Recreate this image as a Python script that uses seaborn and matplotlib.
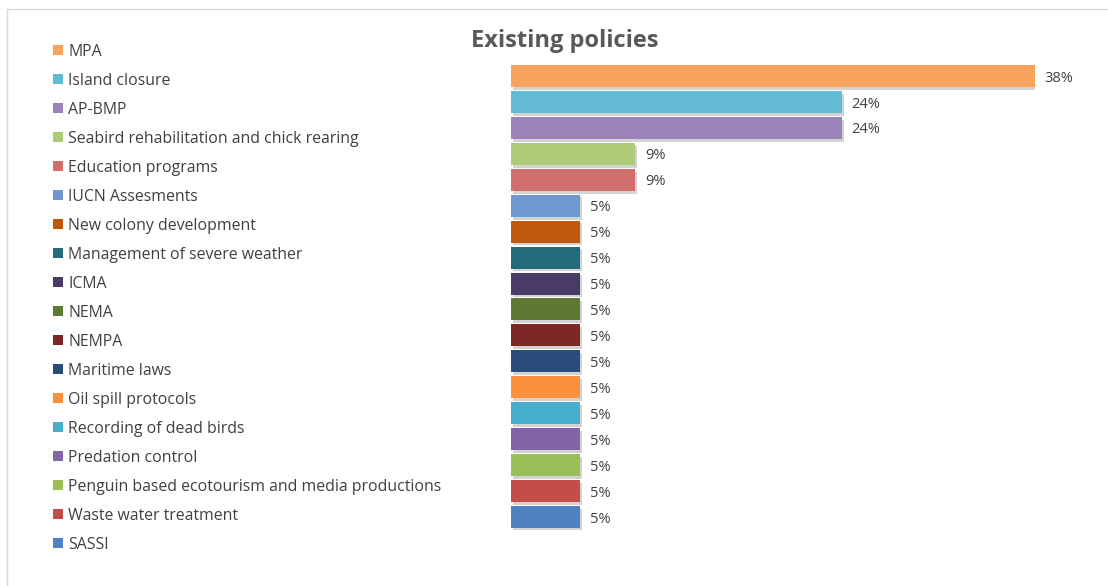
import matplotlib
matplotlib.use("Agg")
import matplotlib.pyplot as plt
import matplotlib.patheffects as pe
from matplotlib.patches import Patch
from matplotlib.lines import Line2D
import seaborn as sns
import pandas as pd

categories = [
    "MPA", "Island closure", "AP-BMP", "Seabird rehabilitation and chick rearing",
    "Education programs", "IUCN Assesments", "New colony development",
    "Management of severe weather", "ICMA", "NEMA", "NEMPA", "Maritime laws",
    "Oil spill protocols", "Recording of dead birds", "Predation control",
    "Penguin based ecotourism and media productions", "Waste water treatment", "SASSI",
]
values = [38, 24, 24, 9, 9, 5, 5, 5, 5, 5, 5, 5, 5, 5, 5, 5, 5, 5]
value_labels = ["38%", "24%", "24%", "9%", "9%", "5%", "5%", "5%", "5%", "5%",
                "5%", "5%", "5%", "5%", "5%", "5%", "5%", "5%"]
colors = [
    "#F9A45E", "#62BBD2", "#9A83B9", "#AECB78", "#D06F6C", "#6F98CF",
    "#C0580E", "#236A7C", "#4A3A66", "#5E7A32", "#7C2826", "#2A4C7A",
    "#F9913F", "#47AFCB", "#8064A6", "#9BBE57", "#C44D4A", "#4F82C3",
]

sns.set_theme(style="white")
plt.rcParams["font.family"] = ["Open Sans", "DejaVu Sans"]

df = pd.DataFrame({"category": categories, "value": values})
palette = dict(zip(categories, colors))

W, H = 1108, 586
fig = plt.figure(figsize=(W / 100, H / 100), dpi=100)
fig.patch.set_facecolor("white")

band = (517 - 76) / 17
top_px = 76 - band / 2
bot_px = 517 + band / 2
ax = fig.add_axes([511 / W, 1 - bot_px / H, (1035 - 511) / W, (bot_px - top_px) / H])

sns.barplot(data=df, y="category", x="value", hue="category", palette=palette,
            order=categories, hue_order=categories, dodge=False, legend=False,
            width=0.85, saturation=1, ax=ax, orient="h")

shadow = [pe.SimplePatchShadow(offset=(1.5, -2), alpha=0.3, shadow_rgbFace="#707070"), pe.Normal()]
for p in ax.patches:
    p.set_edgecolor("none")
    p.set_path_effects(shadow)

ax.set_xlim(0, 38)
ax.set_ylim(len(categories) - 0.5, -0.5)
for sp in ax.spines.values():
    sp.set_visible(False)
ax.set_xticks([])
ax.set_yticks([])
ax.set_xlabel("")
ax.set_ylabel("")
ax.set_facecolor("none")

for i, (v, lab) in enumerate(zip(values, value_labels)):
    ax.annotate(lab, xy=(v, i), xytext=(7, -1.5), textcoords="offset points",
                ha="left", va="center", fontsize=10.5, color="#404040", clip_on=False)

fig.text(565 / W, 1 - 41 / H, "Existing policies", ha="center", va="center",
         fontsize=17, fontweight="bold", color="#595959")

handles = [Patch(facecolor=c, edgecolor="none") for c in colors]
leg = fig.legend(handles, categories, loc="upper left",
                 bbox_to_anchor=(53 / W, 1 - 44 / H), frameon=False,
                 fontsize=11.4, labelcolor="#404040", handlelength=0.6,
                 handleheight=0.6, handletextpad=0.35, labelspacing=0.82,
                 borderaxespad=0, borderpad=0)

fig.add_artist(Line2D([7 / W, 1.0], [1 - 9 / H, 1 - 9 / H], color="#D9D9D9", lw=1))
fig.add_artist(Line2D([7 / W, 7 / W], [0, 1 - 9 / H], color="#D9D9D9", lw=1))

fig.savefig("out.png", dpi=100, facecolor="white")
